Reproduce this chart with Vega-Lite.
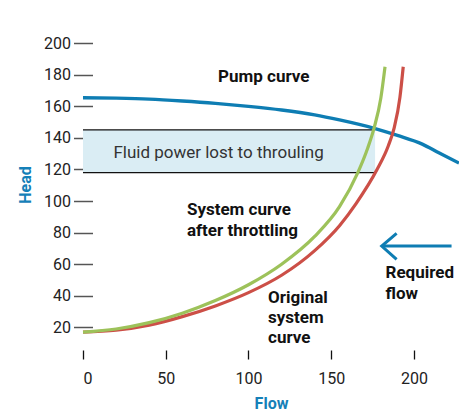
{
  "$schema": "https://vega.github.io/schema/vega-lite/v6.json",
  "width": 376,
  "height": 349,
  "autosize": {"type": "none"},
  "padding": {"left": 83, "top": 10, "right": 0, "bottom": 54},
  "background": "white",
  "config": {"view": {"stroke": null}, "font": "Roboto"},
  "datasets": {
    "band": [{"x0": 0, "x1": 176.5, "h0": 118, "h1": 145}],
    "edges": [
      {"x0": 0, "x1": 176.5, "h": 145},
      {"x0": 0, "x1": 176.5, "h": 118}
    ],
    "curves": [
      {"series": "Pump curve", "flow": 0, "head": 165.4},
      {"series": "Pump curve", "flow": 20, "head": 165.1},
      {"series": "Pump curve", "flow": 40, "head": 164.5},
      {"series": "Pump curve", "flow": 60, "head": 163.3},
      {"series": "Pump curve", "flow": 80, "head": 161.8},
      {"series": "Pump curve", "flow": 100, "head": 159.9},
      {"series": "Pump curve", "flow": 120, "head": 157.6},
      {"series": "Pump curve", "flow": 140, "head": 154.5},
      {"series": "Pump curve", "flow": 155, "head": 151.3},
      {"series": "Pump curve", "flow": 176, "head": 146},
      {"series": "Pump curve", "flow": 190, "head": 141.5},
      {"series": "Pump curve", "flow": 205, "head": 136},
      {"series": "Pump curve", "flow": 215, "head": 130.5},
      {"series": "Pump curve", "flow": 227.2, "head": 124},
      {"series": "Original", "flow": 0, "head": 17},
      {"series": "Original", "flow": 20, "head": 18.2},
      {"series": "Original", "flow": 40, "head": 21.4},
      {"series": "Original", "flow": 60, "head": 26.8},
      {"series": "Original", "flow": 80, "head": 33.6},
      {"series": "Original", "flow": 100, "head": 42},
      {"series": "Original", "flow": 120, "head": 53},
      {"series": "Original", "flow": 140, "head": 68.6},
      {"series": "Original", "flow": 155, "head": 84.4},
      {"series": "Original", "flow": 165, "head": 98.4},
      {"series": "Original", "flow": 177.5, "head": 119.6},
      {"series": "Original", "flow": 184.5, "head": 135},
      {"series": "Original", "flow": 188, "head": 146.2},
      {"series": "Original", "flow": 191.5, "head": 165.6},
      {"series": "Original", "flow": 193.5, "head": 185},
      {"series": "Throttled", "flow": 0, "head": 17},
      {"series": "Throttled", "flow": 20, "head": 19},
      {"series": "Throttled", "flow": 40, "head": 23},
      {"series": "Throttled", "flow": 60, "head": 29},
      {"series": "Throttled", "flow": 80, "head": 37},
      {"series": "Throttled", "flow": 100, "head": 47},
      {"series": "Throttled", "flow": 120, "head": 60},
      {"series": "Throttled", "flow": 140, "head": 77.6},
      {"series": "Throttled", "flow": 155, "head": 96.4},
      {"series": "Throttled", "flow": 166, "head": 117.8},
      {"series": "Throttled", "flow": 172, "head": 133.4},
      {"series": "Throttled", "flow": 176, "head": 146.6},
      {"series": "Throttled", "flow": 180, "head": 165.4},
      {"series": "Throttled", "flow": 182.5, "head": 185}
    ],
    "arrow": [
      {"part": "shaft", "ord": 1, "flow": 181, "head": 71.5},
      {"part": "shaft", "ord": 2, "flow": 222.7, "head": 71.5},
      {"part": "tip", "ord": 1, "flow": 189.5, "head": 79.5},
      {"part": "tip", "ord": 2, "flow": 180.5, "head": 71.5},
      {"part": "tip", "ord": 3, "flow": 189.5, "head": 63}
    ],
    "boldLabels": [
      {"t": "Pump curve", "flow": 81.6, "head": 178.5},
      {"t": "System curve", "flow": 62.8, "head": 94.2},
      {"t": "after throttling", "flow": 62.8, "head": 80.9},
      {"t": "Original", "flow": 111.8, "head": 38.6},
      {"t": "system", "flow": 111.8, "head": 25.8},
      {"t": "curve", "flow": 111.8, "head": 13.3},
      {"t": "Required", "flow": 182.8, "head": 54.4},
      {"t": "flow", "flow": 182.8, "head": 41.1}
    ],
    "plainLabels": [
      {"t": "Fluid power lost to throuling", "flow": 81.9, "head": 130.4}
    ]
  },
  "layer": [
    {
      "data": {"name": "band"},
      "mark": {"type": "rect", "fill": "#daedf4"},
      "encoding": {
        "x": {
          "field": "x0", "type": "quantitative",
          "scale": {"domain": [0, 227.2], "nice": false, "zero": false},
          "axis": {
            "title": "Flow", "values": [0, 50, 100, 150, 200], "tickCount": 12,
            "offset": -9, "tickSize": 9, "tickWidth": 1.3, "tickColor": "#111",
            "domain": false, "grid": false, "labelOverlap": false,
            "labelFontSize": 16, "labelColor": "#222", "labelPadding": 11, "labelFont": "Roboto",
            "titleFontSize": 16, "titleFontWeight": "bold", "titleColor": "#1580b8",
            "titlePadding": 9, "titleFont": "Roboto"
          }
        },
        "x2": {"field": "x1"},
        "y": {
          "field": "h0", "type": "quantitative",
          "scale": {"domain": [0, 220.9], "nice": false, "zero": false},
          "axis": {
            "title": "Head", "values": [20, 40, 60, 80, 100, 120, 140, 160, 180, 200], "tickCount": 12,
            "offset": -9.5, "tickSize": 19, "tickWidth": 1.5, "tickColor": "#555",
            "domain": false, "grid": false, "labelOverlap": false,
            "labelFontSize": 16, "labelColor": "#222", "labelPadding": 3, "labelFont": "Roboto",
            "titleFontSize": 16, "titleFontWeight": "bold", "titleColor": "#1580b8",
            "titlePadding": 10, "titleFont": "Roboto"
          }
        },
        "y2": {"field": "h1"}
      }
    },
    {
      "data": {"name": "edges"},
      "mark": {"type": "rule", "color": "#111", "strokeWidth": 1.3},
      "encoding": {
        "x": {"field": "x0", "type": "quantitative"},
        "x2": {"field": "x1"},
        "y": {"field": "h", "type": "quantitative"}
      }
    },
    {
      "mark": {"type": "rule", "color": "#111", "strokeWidth": 1.4, "strokeDash": [3, 3]},
      "encoding": {
        "x": {"datum": 176.5, "type": "quantitative"},
        "y": {"datum": 0, "type": "quantitative"},
        "y2": {"datum": 145}
      }
    },
    {
      "data": {"name": "curves"},
      "transform": [{"filter": "datum.series === 'Pump curve'"}],
      "mark": {"type": "line", "color": "#0e7db3", "strokeWidth": 3.4, "interpolate": "monotone"},
      "encoding": {
        "x": {"field": "flow", "type": "quantitative"},
        "y": {"field": "head", "type": "quantitative"}
      }
    },
    {
      "data": {"name": "curves"},
      "transform": [{"filter": "datum.series === 'Original'"}],
      "mark": {"type": "line", "color": "#cc4f47", "strokeWidth": 3.2, "interpolate": "monotone"},
      "encoding": {
        "x": {"field": "flow", "type": "quantitative"},
        "y": {"field": "head", "type": "quantitative"}
      }
    },
    {
      "data": {"name": "curves"},
      "transform": [{"filter": "datum.series === 'Throttled'"}],
      "mark": {"type": "line", "color": "#9dc25a", "strokeWidth": 3.2, "interpolate": "monotone"},
      "encoding": {
        "x": {"field": "flow", "type": "quantitative"},
        "y": {"field": "head", "type": "quantitative"}
      }
    },
    {
      "data": {"name": "arrow"},
      "mark": {"type": "line", "color": "#0e7db3", "strokeWidth": 3, "strokeCap": "butt", "strokeJoin": "miter"},
      "encoding": {
        "x": {"field": "flow", "type": "quantitative"},
        "y": {"field": "head", "type": "quantitative"},
        "detail": {"field": "part"},
        "order": {"field": "ord"}
      }
    },
    {
      "mark": {"type": "rule", "color": "#000", "strokeWidth": 3},
      "encoding": {"x": {"datum": 0, "type": "quantitative"}}
    },
    {
      "mark": {"type": "rule", "color": "#000", "strokeWidth": 3},
      "encoding": {"y": {"datum": 0, "type": "quantitative"}}
    },
    {
      "data": {"name": "boldLabels"},
      "mark": {"type": "text", "align": "left", "baseline": "middle", "fontSize": 17, "fontWeight": "bold", "color": "#111", "font": "Roboto"},
      "encoding": {
        "x": {"field": "flow", "type": "quantitative"},
        "y": {"field": "head", "type": "quantitative"},
        "text": {"field": "t"}
      }
    },
    {
      "data": {"name": "plainLabels"},
      "mark": {"type": "text", "align": "center", "baseline": "middle", "fontSize": 17, "color": "#333", "font": "Roboto"},
      "encoding": {
        "x": {"field": "flow", "type": "quantitative"},
        "y": {"field": "head", "type": "quantitative"},
        "text": {"field": "t"}
      }
    }
  ]
}
